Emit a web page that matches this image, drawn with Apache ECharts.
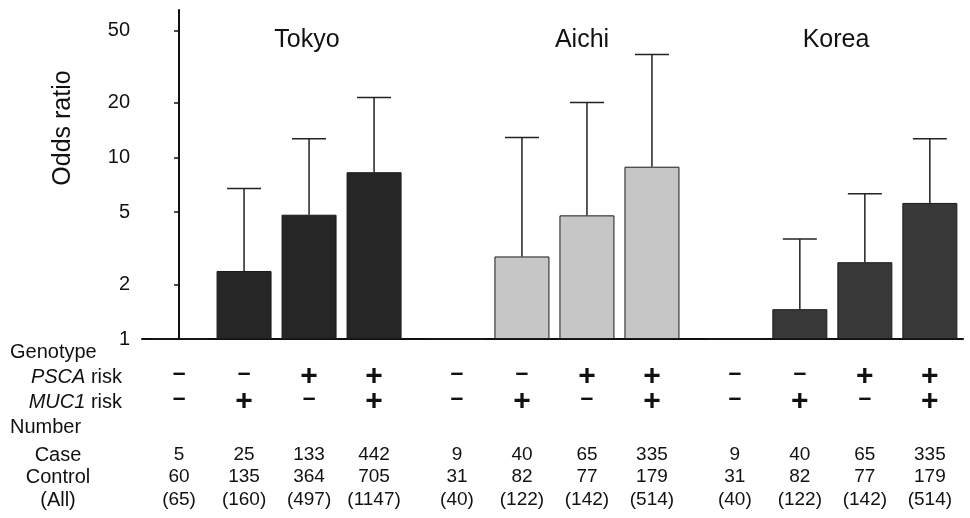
<!DOCTYPE html>
<html>
<head>
<meta charset="utf-8">
<script src="https://cdn.jsdelivr.net/npm/echarts@6/dist/echarts.min.js"></script>
<style>
  html, body { margin: 0; padding: 0; background: #fff; }
  #main { width: 970px; height: 518px; }
</style>
</head>
<body>
<div id="main"></div>
<script>
const cohorts = ["Tokyo", "Aichi", "Korea"];
const pscaRisk = ["-", "-", "+", "+"];
const muc1Risk = ["-", "+", "-", "+"];
const oddsRatio = [
  [1, 2.37, 4.84, 8.3],
  [1, 2.85, 4.8, 8.9],
  [1, 1.46, 2.65, 5.62],
];
const upperCI = [
  [null, 6.74, 12.7, 21.4],
  [null, 12.9, 20.1, 36.9],
  [null, 3.56, 6.32, 12.7],
];
const caseNum = [
  [5, 25, 133, 442],
  [9, 40, 65, 335],
  [9, 40, 65, 335],
];
const controlNum = [
  [60, 135, 364, 705],
  [31, 82, 77, 179],
  [31, 82, 77, 179],
];
const allNum = [
  [65, 160, 497, 1147],
  [40, 122, 142, 514],
  [40, 122, 142, 514],
];
const yTicks = [1, 2, 5, 10, 20, 50];

const FONT = "'Liberation Sans', Arial, sans-serif";
const barColors = ["#262626", "#c6c6c6", "#383838"];
const GROUP_GAP = 0.275;
const slotX = (g, i) => g * (4 + GROUP_GAP) + i;

const chart = echarts.init(document.getElementById("main"));

// bars, error bars and table columns all keyed by cohort g / genotype i
const barData = [];
const errData = [];
const tableData = [];
cohorts.forEach((name, g) => {
  oddsRatio[g].forEach((v, i) => {
    const x = slotX(g, i);
    barData.push({
      value: [x, v],
      itemStyle: { color: barColors[g], borderColor: "#1a1a1a", borderWidth: 1 },
    });
    if (upperCI[g][i] != null) errData.push([x, v, upperCI[g][i]]);
    tableData.push([x, 1, g, i]);
  });
});

const renderError = (params, api) => {
  const x = api.value(0);
  const lo = api.coord([x, api.value(1)]);
  const hi = api.coord([x, api.value(2)]);
  const st = { stroke: "#222", lineWidth: 1.5 };
  return {
    type: "group",
    children: [
      { type: "line", shape: { x1: lo[0], y1: lo[1], x2: hi[0], y2: hi[1] }, style: st },
      { type: "line", shape: { x1: hi[0] - 17, y1: hi[1], x2: hi[0] + 17, y2: hi[1] }, style: st },
    ],
  };
};

const renderTable = (params, api) => {
  const g = api.value(2);
  const i = api.value(3);
  const p = api.coord([api.value(0), 1]);
  const x = p[0];
  const base = p[1];
  const sign = (s, dy) => ({
    type: "text",
    style: {
      text: s === "+" ? "+" : "–",
      x: x,
      y: base + dy + (s === "+" ? 0 : -3),
      align: "center",
      verticalAlign: "middle",
      font: s === "+" ? "bold 30px " + FONT : "bold 23px " + FONT,
      fill: "#111",
    },
  });
  const num = (t, dy) => ({
    type: "text",
    style: {
      text: String(t),
      x: x,
      y: base + dy,
      align: "center",
      verticalAlign: "middle",
      font: "19px " + FONT,
      fill: "#111",
    },
  });
  return {
    type: "group",
    children: [
      sign(pscaRisk[i], 38),
      sign(muc1Risk[i], 63),
      num(caseNum[g][i], 116),
      num(controlNum[g][i], 138),
      num("(" + allNum[g][i] + ")", 161),
    ],
  };
};

const titleX = [307, 582, 836];
const leftText = (text, x, y, align) => ({
  type: "text",
  x: x,
  y: y,
  style: {
    text: text,
    align: align,
    verticalAlign: "middle",
    font: "20px " + FONT,
    fill: "#111",
    rich: { i: { fontStyle: "italic", fontSize: 20, fontFamily: FONT, fill: "#111" } },
  },
});

chart.setOption({
  animation: false,
  backgroundColor: "#fff",
  grid: { left: 142, right: 7, top: 10, bottom: 179 },
  xAxis: {
    type: "value",
    min: -0.57,
    max: 12.06,
    axisLine: { show: true, lineStyle: { color: "#111", width: 2 } },
    axisTick: { show: false },
    axisLabel: { show: false },
    splitLine: { show: false },
  },
  yAxis: {
    type: "log",
    logBase: 10,
    min: 1,
    max: 65,
    axisLine: { show: true, lineStyle: { color: "#111", width: 2 } },
    axisTick: { show: true, inside: false, length: 5, customValues: yTicks, lineStyle: { color: "#111", width: 1.5 } },
    axisLabel: { customValues: yTicks, margin: 12, color: "#111", fontSize: 20, fontFamily: FONT },
    splitLine: { show: false },
    minorTick: { show: false },
  },
  series: [
    {
      type: "bar",
      barWidth: 55,
      data: barData,
    },
    {
      type: "custom",
      renderItem: renderError,
      data: errData,
      encode: { x: 0, y: [1, 2] },
      z: 3,
    },
    {
      type: "custom",
      renderItem: renderTable,
      data: tableData,
      encode: { x: 0, y: 1 },
      clip: false,
      silent: true,
    },
  ],
  graphic: [
    ...cohorts.map((name, g) => ({
      type: "text",
      x: titleX[g],
      y: 40,
      style: { text: name, align: "center", verticalAlign: "middle", font: "25px " + FONT, fill: "#111" },
    })),
    {
      type: "text",
      x: 63,
      y: 128,
      rotation: Math.PI / 2,
      style: { text: "Odds ratio", align: "center", verticalAlign: "middle", font: "25px " + FONT, fill: "#111" },
    },
    leftText("Genotype", 10, 352, "left"),
    leftText("{i|PSCA} risk", 122, 377, "right"),
    leftText("{i|MUC1} risk", 122, 402, "right"),
    leftText("Number", 10, 427, "left"),
    leftText("Case", 58, 455, "center"),
    leftText("Control", 58, 477, "center"),
    leftText("(All)", 58, 500, "center"),
  ],
});
</script>
</body>
</html>
